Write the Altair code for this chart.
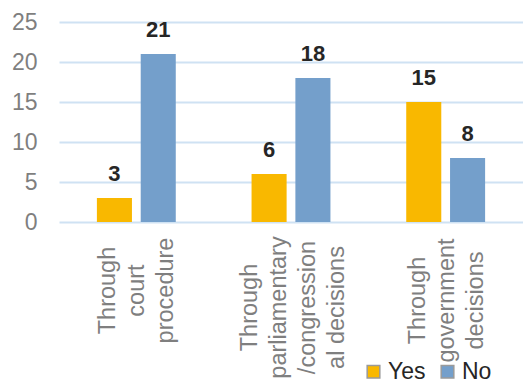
import altair as alt
import pandas as pd

categories = ["Through|court|procedure",
              "Through|parliamentary|/congression|al decisions",
              "Through|government|decisions"]
series = ["Yes", "No"]
yes_values = [3, 6, 15]
no_values = [21, 18, 8]

rows = []
for c, y, n in zip(categories, yes_values, no_values):
    rows.append({"cat": c, "series": "Yes", "value": y})
    rows.append({"cat": c, "series": "No", "value": n})
df = pd.DataFrame(rows)

FONT = "Liberation Sans"
LH = 29

label_offset = {
    "condition": {"test": "indexof(datum.value, 'parliamentary') >= 0", "value": -1.5 * LH + 2},
    "value": -1.0 * LH + 1,
}
label_padding = {
    "condition": [
        {"test": "indexof(datum.value, 'parliamentary') >= 0", "value": 85},
        {"test": "indexof(datum.value, 'government') >= 0", "value": 78},
    ],
    "value": 68,
}

x = alt.X("cat:N", sort=categories, title=None,
          scale=alt.Scale(paddingInner=0.49, paddingOuter=0.245),
          axis=alt.Axis(labelAngle=-90, labelAlign="center", labelBaseline="middle",
                        labelExpr="split(datum.label, '|')",
                        labelPadding=label_padding, labelOffset=label_offset,
                        labelLineHeight=LH, labelFontSize=23.5, labelColor="#7f7f7f",
                        labelFont=FONT, ticks=False, tickSize=0, domain=False,
                        grid=False, labelOverlap=False, labelLimit=0))
xo = alt.XOffset("series:N", sort=series,
                 scale=alt.Scale(paddingInner=0.2, paddingOuter=0))
y = alt.Y("value:Q", title=None,
          scale=alt.Scale(domain=[0, 25], nice=False),
          axis=alt.Axis(values=[0, 5, 10, 15, 20, 25], labelFontSize=23,
                        labelColor="#7f7f7f", labelFont=FONT, labelPadding=22,
                        ticks=False, domain=False, grid=True,
                        gridColor="#cfe2f3", gridWidth=2))

bars = alt.Chart(df).mark_bar().encode(
    x=x, xOffset=xo, y=y,
    color=alt.Color("series:N", sort=series, title=None,
                    scale=alt.Scale(domain=series, range=["#F9B800", "#749FCB"]),
                    legend=alt.Legend(orient="none", legendX=303, legendY=338,
                                      direction="horizontal", symbolType="square",
                                      symbolSize=160, symbolStrokeColor="#9a9a9a",
                                      symbolStrokeWidth=1.5,
                                      labelFontSize=23, labelFont=FONT,
                                      labelColor="#262626", labelOffset=3,
                                      columnPadding=10, padding=0)),
)

labels = alt.Chart(df).mark_text(
    dy=-17, baseline="alphabetic", align="center", fontSize=22,
    fontWeight="bold", font=FONT, color="#262626"
).encode(x=x, xOffset=xo, y=y, text=alt.Text("value:Q"))

chart = (bars + labels).properties(
    width=464, height=200,
    autosize=alt.AutoSizeParams(type="none"),
    padding={"left": 59, "top": 22, "right": 0, "bottom": 161},
).configure_view(stroke=None)

chart.save("out.html", embed_options={"renderer": "svg", "actions": False})
